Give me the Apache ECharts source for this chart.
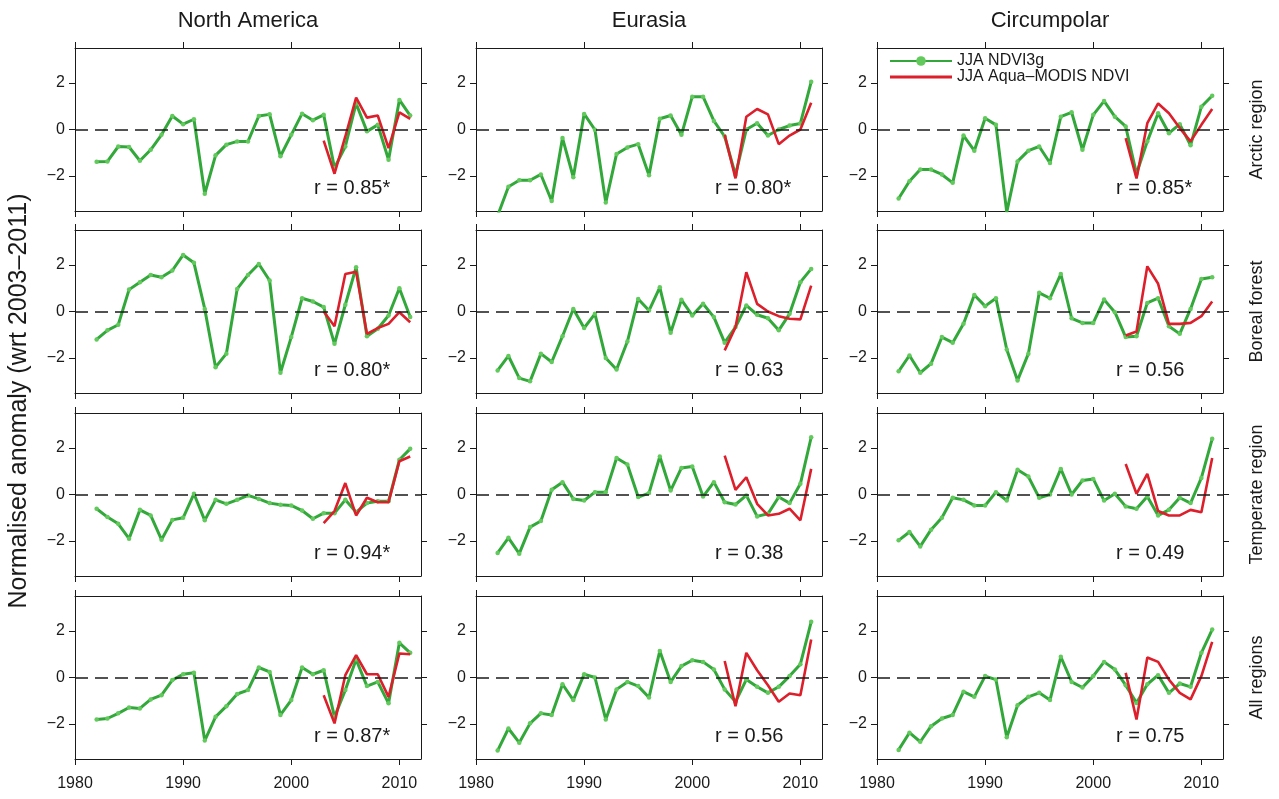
<!DOCTYPE html>
<html>
<head>
<meta charset="utf-8">
<title>Normalised NDVI anomaly</title>
<script src="https://cdn.jsdelivr.net/npm/echarts@6.0.0/dist/echarts.min.js"></script>
<style>
  html, body { margin: 0; padding: 0; background: #fff; }
  #chart { width: 1279px; height: 799px; }
</style>
</head>
<body>
<div id="chart"></div>
<script>
  // years of the two records
  var years = [1982, 1983, 1984, 1985, 1986, 1987, 1988, 1989, 1990, 1991, 1992, 1993, 1994, 1995, 1996,
    1997, 1998, 1999, 2000, 2001, 2002, 2003, 2004, 2005, 2006, 2007, 2008, 2009, 2010, 2011]
  var modisYears = [2003, 2004, 2005, 2006, 2007, 2008, 2009, 2010, 2011]

  var columns = ['North America', 'Eurasia', 'Circumpolar']
  var rows = ['Arctic region', 'Boreal forest', 'Temperate region', 'All regions']
  var xTicks = [1980, 1990, 2000, 2010]
  var yTicks = [-2, 0, 2]

  // JJA NDVI3g (green) and JJA Aqua-MODIS NDVI (red)
  var naArctic = [-1.39, -1.37, -0.73, -0.75, -1.34, -0.87, -0.23, 0.58, 0.23, 0.44, -2.76, -1.11, -0.65, -0.51, -0.51,
    0.58, 0.65, -1.15, -0.23, 0.68, 0.40, 0.63, -1.65, -0.73, 1.12, -0.08, 0.20, -1.30, 1.27, 0.60]
  var naArcticModis = [-0.48, -1.90, -0.30, 1.37, 0.51, 0.60, -0.80, 0.74, 0.46]
  var euArctic = [-3.70, -2.46, -2.18, -2.18, -1.93, -3.07, -0.37, -2.05, 0.67, -0.01, -3.14, -1.05, -0.77, -0.63, -1.96,
    0.46, 0.60, -0.23, 1.41, 1.41, 0.37, -0.30, -1.95, 0.00, 0.27, -0.26, 0.00, 0.17, 0.26, 2.05]
  var euArcticModis = [-0.23, -2.10, 0.55, 0.88, 0.65, -0.63, -0.26, 0.00, 1.15]
  var cpArctic = [-2.96, -2.22, -1.72, -1.72, -1.93, -2.29, -0.26, -0.91, 0.48, 0.20, -3.55, -1.37, -0.91, -0.73, -1.44,
    0.55, 0.74, -0.87, 0.63, 1.22, 0.55, 0.13, -1.90, -0.51, 0.70, -0.16, 0.23, -0.68, 0.98, 1.45]
  var cpArcticModis = [-0.37, -2.10, 0.27, 1.12, 0.70, 0.06, -0.51, 0.20, 0.88]

  var naBoreal = [-1.20, -0.81, -0.57, 0.94, 1.26, 1.57, 1.47, 1.76, 2.43, 2.09, 0.11, -2.39, -1.81, 0.97, 1.57,
    2.04, 1.33, -2.63, -1.10, 0.57, 0.43, 0.19, -1.39, 0.29, 1.90, -1.06, -0.74, -0.17, 1.00, -0.24]
  var naBorealModis = [0.00, -0.63, 1.61, 1.71, -0.96, -0.71, -0.53, -0.03, -0.46]
  var euBoreal = [-2.53, -1.91, -2.86, -3.00, -1.81, -2.17, -1.06, 0.11, -0.71, -0.10, -2.00, -2.49, -1.29, 0.54, 0.04,
    1.04, -0.91, 0.50, -0.17, 0.33, -0.24, -1.34, -0.67, 0.26, -0.14, -0.29, -0.81, -0.10, 1.26, 1.83]
  var euBorealModis = [-1.67, -0.67, 1.69, 0.33, 0.00, -0.20, -0.31, -0.34, 1.11]
  var cpBoreal = [-2.57, -1.89, -2.63, -2.24, -1.10, -1.34, -0.53, 0.71, 0.23, 0.57, -1.63, -2.96, -1.81, 0.80, 0.57,
    1.61, -0.29, -0.49, -0.49, 0.51, -0.03, -1.10, -1.06, 0.37, 0.57, -0.63, -0.96, 0.11, 1.40, 1.47]
  var cpBorealModis = [-1.03, -0.86, 1.94, 1.19, -0.53, -0.53, -0.49, -0.20, 0.43]

  var naTemperate = [-0.61, -0.97, -1.26, -1.90, -0.66, -0.90, -1.94, -1.09, -1.00, 0.03, -1.11, -0.23, -0.40, -0.23, -0.04,
    -0.19, -0.37, -0.44, -0.47, -0.69, -1.04, -0.80, -0.80, -0.23, -0.76, -0.37, -0.29, -0.29, 1.49, 1.96]
  var naTemperateModis = [-1.23, -0.71, 0.49, -0.90, -0.14, -0.33, -0.33, 1.43, 1.63]
  var euTemperate = [-2.51, -1.86, -2.54, -1.40, -1.14, 0.20, 0.53, -0.19, -0.26, 0.10, 0.10, 1.57, 1.29, -0.11, 0.06,
    1.63, 0.17, 1.14, 1.20, -0.09, 0.53, -0.33, -0.43, -0.04, -0.94, -0.83, -0.11, -0.37, 0.46, 2.46]
  var euTemperateModis = [1.67, 0.20, 0.74, -0.40, -0.90, -0.83, -0.61, -1.11, 1.10]
  var cpTemperate = [-1.97, -1.61, -2.23, -1.51, -1.00, -0.14, -0.23, -0.47, -0.47, 0.10, -0.26, 1.06, 0.77, -0.14, 0.00,
    1.10, 0.00, 0.60, 0.67, -0.26, 0.03, -0.51, -0.61, -0.09, -0.90, -0.66, -0.14, -0.37, 0.71, 2.39]
  var cpTemperateModis = [1.31, 0.03, 0.89, -0.71, -0.90, -0.90, -0.66, -0.76, 1.57]

  var naAll = [-1.80, -1.76, -1.54, -1.29, -1.33, -0.94, -0.76, -0.11, 0.14, 0.20, -2.71, -1.69, -1.23, -0.71, -0.54,
    0.43, 0.24, -1.61, -0.97, 0.43, 0.14, 0.31, -1.69, -0.54, 0.77, -0.37, -0.19, -1.11, 1.49, 1.06]
  var naAllModis = [-0.76, -1.97, 0.10, 0.96, 0.14, 0.14, -0.83, 1.03, 1.00]
  var euAll = [-3.14, -2.19, -2.80, -1.97, -1.54, -1.61, -0.29, -0.97, 0.14, 0.00, -1.80, -0.51, -0.19, -0.37, -0.86,
    1.14, -0.19, 0.49, 0.74, 0.67, 0.34, -0.51, -1.04, -0.09, -0.40, -0.66, -0.40, 0.06, 0.57, 2.39]
  var euAllModis = [0.71, -1.23, 1.06, 0.31, -0.33, -1.04, -0.69, -0.76, 1.63]
  var cpAll = [-3.11, -2.37, -2.76, -2.09, -1.76, -1.61, -0.61, -0.83, 0.06, -0.09, -2.57, -1.19, -0.83, -0.66, -0.97,
    0.89, -0.19, -0.43, 0.06, 0.67, 0.34, -0.33, -1.09, -0.29, 0.10, -0.66, -0.26, -0.40, 1.06, 2.06]
  var cpAllModis = [0.20, -1.80, 0.86, 0.67, -0.09, -0.66, -0.94, 0.06, 1.53]

  var correlations = ['0.85*', '0.80*', '0.85*', '0.80*', '0.63', '0.56', '0.94*', '0.38', '0.49', '0.87*', '0.56', '0.75']

  var ndviPanels = [naArctic, euArctic, cpArctic, naBoreal, euBoreal, cpBoreal,
    naTemperate, euTemperate, cpTemperate, naAll, euAll, cpAll]
  var modisPanels = [naArcticModis, euArcticModis, cpArcticModis, naBorealModis, euBorealModis, cpBorealModis,
    naTemperateModis, euTemperateModis, cpTemperateModis, naAllModis, euAllModis, cpAllModis]

  var font = '"Liberation Sans", Arial, Helvetica, sans-serif'
  var ink = '#1a1a1a'
  var green = '#33a83a'
  var red = '#dc1f2b'

  var colLeft = [75, 476, 877]
  var rowTop = [48, 230, 413, 596]
  var panelW = 346
  var panelH = 163

  function pairs(xs, ys) {
    return xs.map(function (x, i) { return [x, ys[i]] })
  }
  function minus(v) {
    return v < 0 ? '\u2212' + Math.abs(v) : String(v)
  }

  var grid = [], xAxis = [], yAxis = [], series = [], graphic = []

  for (var r = 0; r < 4; r++) {
    for (var c = 0; c < 3; c++) {
      var i = r * 3 + c
      grid.push({left: colLeft[c], top: rowTop[r], width: panelW, height: panelH, containLabel: false})

      var baseLine = {onZero: false, lineStyle: {color: ink, width: 1}}
      var tick = {show: true, inside: false, length: 6, lineStyle: {color: ink, width: 1}}
      xAxis.push({
        gridIndex: i, type: 'value', min: 1980, max: 2012, position: 'bottom',
        axisLine: baseLine,
        axisTick: Object.assign({customValues: xTicks}, tick),
        axisLabel: {show: r == 3, customValues: xTicks, color: ink, fontSize: 16, fontFamily: font, margin: 17,
          formatter: function (v) { return String(v) }},
        splitLine: {show: false}
      })
      xAxis.push({
        gridIndex: i, type: 'value', min: 1980, max: 2012, position: 'top',
        axisLine: baseLine,
        axisTick: Object.assign({customValues: xTicks}, tick),
        axisLabel: {show: false},
        splitLine: {show: false}
      })
      yAxis.push({
        gridIndex: i, type: 'value', min: -3.5, max: 3.5, position: 'left',
        axisLine: baseLine,
        axisTick: Object.assign({customValues: yTicks}, tick),
        axisLabel: {show: true, customValues: yTicks, color: ink, fontSize: 16, fontFamily: font, margin: 10, formatter: minus},
        splitLine: {show: false}
      })
      yAxis.push({
        gridIndex: i, type: 'value', min: -3.5, max: 3.5, position: 'right',
        axisLine: baseLine,
        axisTick: Object.assign({customValues: yTicks}, tick),
        axisLabel: {show: false},
        splitLine: {show: false}
      })

      series.push({
        name: 'JJA NDVI3g', type: 'line',
        xAxisIndex: 2 * i, yAxisIndex: 2 * i,
        data: pairs(years, ndviPanels[i]),
        symbol: 'circle', symbolSize: 4.5, showSymbol: true,
        lineStyle: {color: green, width: 3},
        itemStyle: {color: '#62c95c', borderWidth: 0},
        clip: true, z: 3,
        emphasis: {disabled: true},
        markLine: {
          silent: true, symbol: ['none', 'none'], label: {show: false},
          lineStyle: {color: ink, type: [13, 7], width: 1.5},
          data: [{yAxis: 0}]
        }
      })
      series.push({
        name: 'JJA Aqua\u2013MODIS NDVI', type: 'line',
        xAxisIndex: 2 * i, yAxisIndex: 2 * i,
        data: pairs(modisYears, modisPanels[i]),
        showSymbol: false, symbol: 'none',
        lineStyle: {color: red, width: 2.6},
        itemStyle: {color: red},
        clip: true, z: 4,
        emphasis: {disabled: true}
      })

      graphic.push({
        type: 'text', left: colLeft[c] + 239, top: rowTop[r] + 130,
        style: {text: 'r = ' + correlations[i], font: '20px ' + font, fill: ink}
      })
    }
  }

  // column titles
  for (var k = 0; k < 3; k++) {
    graphic.push({
      type: 'text', x: colLeft[k] + panelW / 2, y: 21,
      style: {text: columns[k], font: '22px ' + font, fill: ink, align: 'center', verticalAlign: 'middle'}
    })
  }
  // row labels on the right
  for (var m = 0; m < 4; m++) {
    graphic.push({
      type: 'text', x: 1257, y: rowTop[m] + panelH / 2, rotation: Math.PI / 2,
      style: {text: rows[m], font: '18px ' + font, fill: ink, align: 'center', verticalAlign: 'middle'}
    })
  }
  graphic.push({
    type: 'text', x: 19, y: 401, rotation: Math.PI / 2,
    style: {text: 'Normalised anomaly (wrt 2003\u20132011)', font: '25px ' + font, fill: ink, align: 'center', verticalAlign: 'middle'}
  })

  var chart = echarts.init(document.getElementById('chart'))
  chart.setOption({
    animation: false,
    backgroundColor: '#fff',
    grid: grid,
    xAxis: xAxis,
    yAxis: yAxis,
    legend: {
      data: [
        {name: 'JJA NDVI3g'},
        {name: 'JJA Aqua\u2013MODIS NDVI', icon: 'path://M0,0H62V3H0Z'}
      ],
      orient: 'vertical', left: 889, top: 53, padding: 0,
      itemWidth: 62, itemHeight: 12, itemGap: 0,
      selectedMode: false,
      textStyle: {color: ink, fontSize: 16, fontFamily: font}
    },
    graphic: graphic,
    series: series
  })
</script>
</body>
</html>
